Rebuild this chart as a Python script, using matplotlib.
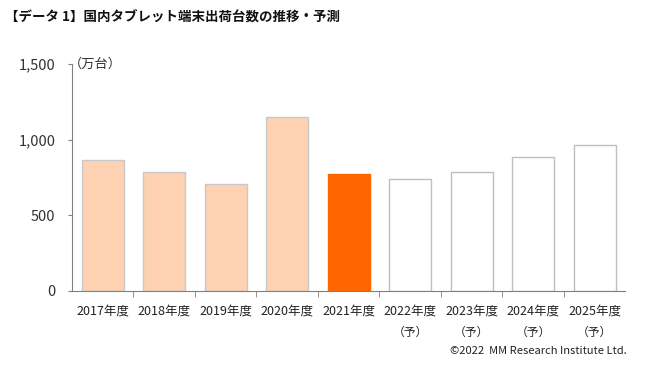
import numpy as np
import matplotlib.pyplot as plt
from matplotlib.ticker import FuncFormatter, FixedLocator

plt.rcParams['font.family'] = ['Noto Sans CJK JP', 'DejaVu Sans']

years = ["2017年度", "2018年度", "2019年度", "2020年度", "2021年度",
         "2022年度", "2023年度", "2024年度", "2025年度"]
forecast = [False, False, False, False, False, True, True, True, True]
shipments = [867, 786, 703, 1151, 772, 740, 786, 885, 967]  # 万台

fig = plt.figure(figsize=(6.45, 3.77), dpi=100)
ax = fig.add_axes([0.1116, 0.229, 0.858, 0.601])

x = np.arange(len(years))
faces, edges = [], []
for i, f in enumerate(forecast):
    if f:
        faces.append("white"); edges.append("#bfbfbf")
    elif i == 4:
        faces.append("#ff6600"); edges.append("#ff6600")
    else:
        faces.append("#fdd1b1"); edges.append("#c8c8c8")
ax.bar(x, shipments, width=0.68, color=faces, edgecolor=edges, linewidth=1.0)

ax.set_xlim(-0.5, len(years) - 0.5)
ax.set_ylim(0, 1500)
ax.set_yticks([0, 500, 1000, 1500])
ax.yaxis.set_major_formatter(FuncFormatter(lambda v, p: f"{int(v):,}"))
ax.tick_params(axis="y", labelsize=10.5, length=3, color="#808080",
               pad=9, labelcolor="#333333")

ax.xaxis.set_major_locator(FixedLocator(x))
ax.set_xticklabels([])
ax.xaxis.set_minor_locator(FixedLocator(x[:-1] + 0.5))
ax.tick_params(axis="x", which="major", length=0)
ax.tick_params(axis="x", which="minor", length=4, color="#808080")

for xi, lab, f in zip(x, years, forecast):
    ax.text(xi, -0.09, lab, transform=ax.get_xaxis_transform(),
            ha="center", va="center", fontsize=9, color="#222222")
    if f:
        ax.text(xi, -0.186, "（予）", transform=ax.get_xaxis_transform(),
                ha="center", va="center", fontsize=8.5, color="#222222")

for s in ["top", "right"]:
    ax.spines[s].set_visible(False)
for s in ["left", "bottom"]:
    ax.spines[s].set_color("#808080")

ax.text(-0.005, 1.0, "（万台）", transform=ax.transAxes, ha="left", va="center",
        fontsize=9.5, color="#333333")

fig.text(0.008, 0.952, "【データ 1】国内タブレット端末出荷台数の推移・予測",
         ha="left", va="center", fontsize=9.7, fontweight="bold", color="#111111")
fig.text(0.972, 0.07, "©2022  MM Research Institute Ltd.",
         ha="right", va="center", fontsize=8, color="#222222")

fig.savefig("out.png", dpi=100)
